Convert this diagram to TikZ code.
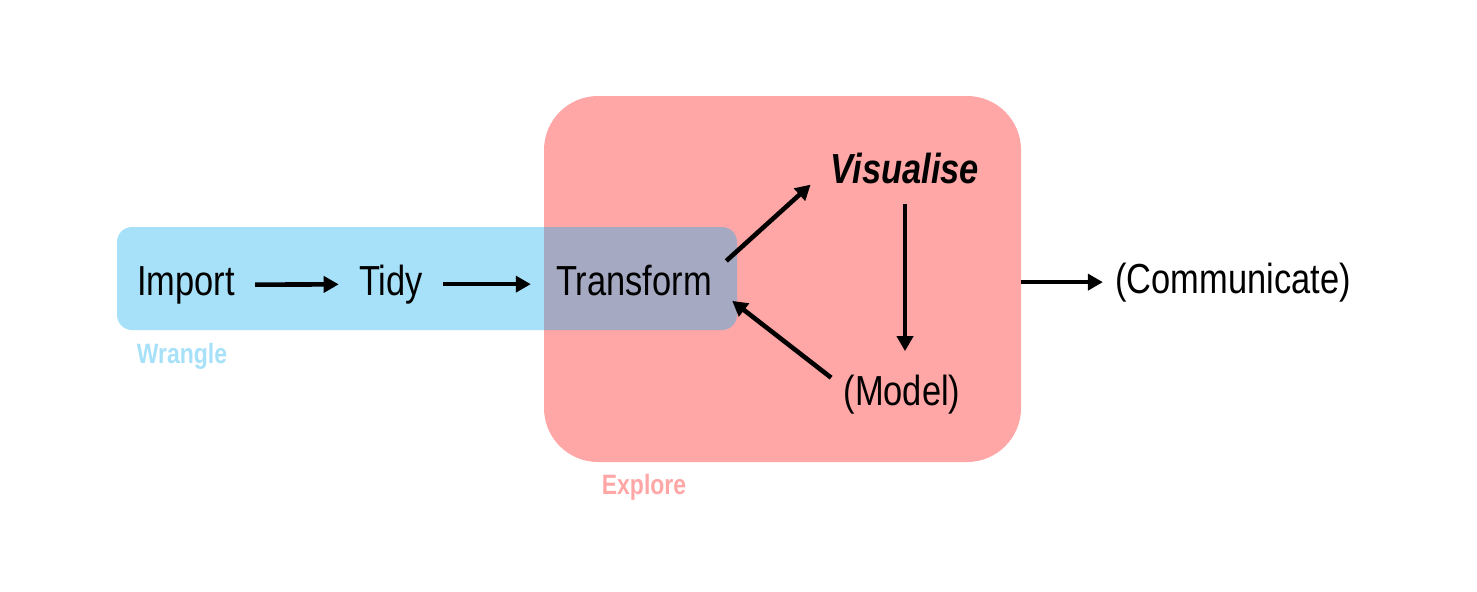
\documentclass[tikz,border=0pt]{standalone}
\usepackage{fontspec}
\setmainfont{Liberation Sans}[FakeStretch=0.82]
\usetikzlibrary{arrows.meta}
\definecolor{wranglefill}{RGB}{21,176,239}
\definecolor{wranglelight}{RGB}{166,225,249}
\definecolor{explorefill}{RGB}{255,166,166}
\begin{document}
\begin{tikzpicture}[x=0.5pt, y=-0.5pt,
    region/.style={inner sep=0pt, draw=none},
    stage/.style={font=\fontsize{21}{25}\selectfont, inner sep=10pt, anchor=base},
    tag/.style={font=\fontsize{14}{17}\selectfont\bfseries, inner sep=2pt, anchor=base},
    flow/.style={line width=2.3pt, -{Triangle[length=7.5pt, width=8pt]}}]
  \useasboundingbox (0,0) rectangle (1477,591);
  \node[region, fill=explorefill, minimum width=238.5pt, minimum height=183pt, rounded corners=27pt] (explore) at (782.5,279) {};
  \node[region, fill=wranglefill, fill opacity=0.38, minimum width=310pt, minimum height=51.5pt, rounded corners=7.5pt] (wrangle) at (427,278.5) {};
  \node[stage] (import) at (186,295) {Import};
  \node[stage] (tidy) at (391,295) {Tidy};
  \node[stage] (transform) at (634,295) {Transform};
  \node[stage, font=\fontsize{21}{25}\selectfont\bfseries\itshape] (visualise) at (905,183) {Visualise};
  \node[stage] (model) at (902,405) {(Model)};
  \node[stage] (communicate) at (1233,293) {(Communicate)};
  \node[tag, text=wranglelight] (wranglelabel) at (182,363) {Wrangle};
  \node[tag, text=explorefill] (explorelabel) at (644,494) {Explore};
  \draw[flow] (import) -- (tidy);
  \draw[flow, shorten >=2.5pt] (tidy.east) -- (tidy.east -| transform.west);
  \draw[flow, shorten <=-4pt] (transform.14) -- (visualise.190);
  \draw[flow, shorten >=1.5pt] (visualise.south) -- (visualise.south |- model.north);
  \draw[flow, shorten <=-5pt] (model.164) -- (transform.-12);
  \draw[flow, shorten >=-4pt] (explore.east |- communicate.west) -- (communicate.west);
\end{tikzpicture}
\end{document}
